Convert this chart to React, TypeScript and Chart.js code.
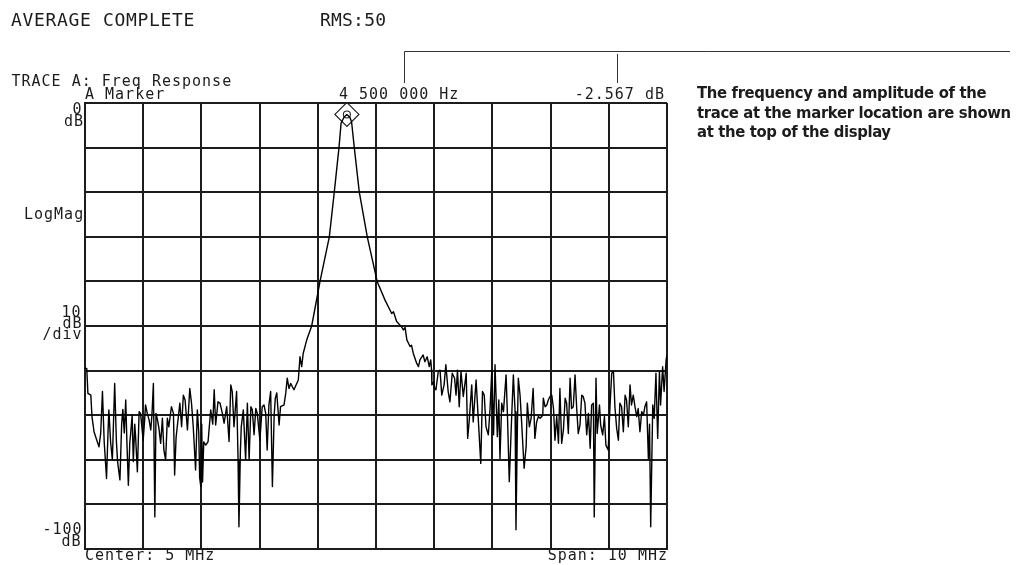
import React, { useEffect, useRef } from "react";
import { Chart, registerables } from "chart.js";

Chart.register(...registerables);

// ---------- DATA (frequency in MHz, level in dB) ----------
const leftNoise: [number, number][] = [
  [0.0, -59.5], [0.03, -59.5], [0.05, -65.1], [0.1, -65.5], [0.12, -70.3], [0.155, -73.7], [0.2, -75.5],
  [0.24, -77.1], [0.27, -74.0], [0.3, -64.7], [0.33, -76.0], [0.37, -84.2], [0.395, -74.0], [0.41, -68.8],
  [0.44, -76.0], [0.47, -80.0], [0.51, -62.9], [0.54, -76.0], [0.56, -80.4], [0.6, -84.5], [0.63, -72.0],
  [0.65, -68.7], [0.675, -74.0], [0.7, -66.6], [0.72, -76.0], [0.745, -85.7], [0.77, -76.0], [0.78, -74.8],
  [0.81, -70.0], [0.83, -80.4], [0.855, -72.0], [0.87, -75.0], [0.9, -82.7], [0.93, -69.2], [0.955, -69.6],
  [0.98, -73.0], [1.0, -75.6], [1.025, -71.0], [1.04, -67.7], [1.07, -69.6], [1.1, -71.0], [1.13, -73.3],
  [1.15, -70.0], [1.175, -62.9], [1.2, -92.8], [1.22, -69.6], [1.245, -71.0], [1.27, -72.9], [1.3, -76.3],
  [1.33, -70.7], [1.355, -77.8], [1.385, -80.0], [1.415, -70.7], [1.44, -72.6], [1.485, -68.1], [1.52, -69.6],
  [1.54, -83.4], [1.565, -75.0], [1.585, -72.6], [1.63, -67.3], [1.66, -72.6], [1.69, -65.5], [1.72, -66.6],
  [1.76, -73.3], [1.8, -64.0], [1.83, -67.3], [1.86, -72.6], [1.9, -82.3], [1.93, -68.8], [1.955, -74.0],
  [1.97, -84.0], [1.99, -86.0], [2.005, -72.0], [2.02, -85.0], [2.04, -76.0], [2.075, -76.7], [2.115, -75.9],
  [2.16, -68.8], [2.195, -72.0], [2.22, -64.3], [2.245, -72.2], [2.285, -67.0], [2.32, -67.3], [2.36, -69.6],
  [2.39, -71.8], [2.435, -68.1], [2.475, -75.9], [2.505, -63.2], [2.53, -64.7], [2.56, -72.6], [2.605, -64.7],
  [2.63, -80.0], [2.645, -95.0], [2.67, -78.0], [2.685, -72.6], [2.72, -68.8], [2.76, -80.0], [2.79, -67.3],
  [2.82, -80.0], [2.85, -68.1], [2.875, -68.8], [2.905, -74.4], [2.935, -68.5], [2.96, -69.6], [3.005, -75.6],
  [3.045, -68.1], [3.075, -67.7], [3.105, -69.6], [3.13, -77.8], [3.16, -67.7], [3.19, -64.7], [3.22, -86.0],
  [3.25, -70.0], [3.27, -66.2], [3.295, -65.0], [3.335, -72.2], [3.36, -68.1], [3.42, -67.7], [3.45, -65.0],
  [3.475, -61.7], [3.505, -64.0], [3.535, -62.9], [3.59, -64.3],
];

const peakTrace: [number, number][] = [
  [3.665, -62.1], [3.694, -56.9], [3.723, -59.1], [3.75, -56.1], [3.81, -53.1], [3.895, -50.0], [4.038, -40.0],
  [4.198, -30.0], [4.283, -20.0], [4.364, -10.0], [4.4, -4.5], [4.45, -3.2], [4.5, -2.567], [4.55, -3.2],
  [4.58, -4.2], [4.627, -10.0], [4.713, -20.0], [4.85, -30.0], [5.02, -40.0], [5.155, -44.2], [5.27, -47.2],
  [5.3, -46.8], [5.355, -49.0], [5.44, -50.2], [5.47, -50.9], [5.5, -50.3], [5.53, -53.1], [5.585, -54.6],
  [5.61, -54.3], [5.64, -56.1], [5.7, -58.4], [5.73, -59.1], [5.755, -57.6], [5.81, -56.5], [5.84, -58.0],
  [5.88, -56.9], [5.915, -59.1], [5.94, -57.6], [5.955, -59.9],
];

const rightNoise: [number, number][] = [
  [5.96, -63.2], [5.99, -62.5], [6.01, -64.0], [6.03, -64.3], [6.07, -60.2], [6.1, -59.9], [6.13, -65.5],
  [6.17, -63.2], [6.2, -58.7], [6.24, -64.7], [6.27, -67.0], [6.31, -60.6], [6.35, -61.7], [6.375, -65.5],
  [6.4, -59.9], [6.43, -68.1], [6.46, -60.2], [6.5, -65.8], [6.55, -60.6], [6.575, -75.2], [6.6, -71.5],
  [6.645, -63.2], [6.67, -71.5], [6.72, -62.1], [6.76, -71.5], [6.8, -80.8], [6.83, -64.7], [6.86, -65.5],
  [6.89, -72.6], [6.93, -74.4], [6.96, -68.5], [6.99, -59.9], [7.02, -74.4], [7.045, -58.7], [7.085, -74.8],
  [7.11, -66.6], [7.13, -79.7], [7.16, -67.3], [7.19, -69.2], [7.235, -61.0], [7.26, -70.7], [7.29, -84.9],
  [7.33, -70.7], [7.36, -61.0], [7.39, -69.2], [7.405, -95.7], [7.43, -72.0], [7.445, -61.7], [7.475, -65.5],
  [7.5, -71.1], [7.545, -81.9], [7.58, -77.0], [7.6, -67.3], [7.635, -72.6], [7.665, -70.7], [7.7, -64.0],
  [7.73, -75.2], [7.76, -71.5], [7.79, -70.3], [7.82, -70.7], [7.865, -70.0], [7.875, -66.2], [7.905, -68.1],
  [7.935, -67.7], [7.96, -66.6], [7.99, -65.8], [8.02, -65.5], [8.05, -68.5], [8.075, -75.6], [8.105, -70.3],
  [8.135, -76.3], [8.16, -64.0], [8.19, -76.3], [8.22, -73.3], [8.25, -66.2], [8.275, -67.3], [8.305, -74.1],
  [8.335, -61.7], [8.36, -68.5], [8.39, -68.1], [8.42, -61.0], [8.45, -68.8], [8.475, -74.1], [8.505, -72.2],
  [8.535, -65.5], [8.56, -65.8], [8.59, -67.3], [8.62, -74.4], [8.65, -69.6], [8.68, -77.4], [8.705, -67.7],
  [8.735, -67.3], [8.75, -92.8], [8.78, -61.7], [8.8, -74.1], [8.84, -67.7], [8.86, -72.2], [8.895, -74.4],
  [8.925, -70.3], [8.95, -76.7], [8.99, -77.8], [9.02, -68.1], [9.05, -60.6], [9.08, -60.2], [9.105, -68.1],
  [9.135, -72.9], [9.165, -75.6], [9.19, -67.3], [9.22, -68.1], [9.25, -73.7], [9.28, -65.5], [9.305, -66.6],
  [9.335, -72.6], [9.365, -63.2], [9.39, -67.7], [9.42, -65.5], [9.45, -68.1], [9.48, -70.3], [9.505, -68.5],
  [9.535, -73.7], [9.565, -69.2], [9.595, -70.0], [9.62, -68.1], [9.65, -67.0], [9.68, -79.7], [9.7, -72.0],
  [9.72, -95.0], [9.755, -67.7], [9.78, -70.7], [9.81, -60.6], [9.84, -75.2], [9.87, -60.2], [9.89, -67.7],
  [9.925, -59.1], [9.95, -64.7], [9.985, -57.6], [10.0, -56.5],
];

const markerFreqMHz = 4.5;
const markerLevelDb = -2.567;
const xRangeMHz = [0, 10];
const yRangeDb = [-100, 0];
const xDivMHz = 1;
const yDivDb = 10;

const headerTexts = ["AVERAGE COMPLETE", "RMS:50"];
const traceTexts = ["TRACE A: Freq Response", "A Marker", "4 500 000 Hz", "-2.567 dB"];
const axisTexts = ["0", "dB", "LogMag", "10", "dB", "/div", "-100", "dB"];
const footerTexts = ["Center: 5 MHz", "Span: 10 MHz"];
const noteLines = [
  "The frequency and amplitude of the",
  "trace at the marker location are shown",
  "at the top of the display",
];

// ---------- LAYOUT ----------
const W = 1024;
const H = 565;
const PLOT = { left: 85, top: 103, right: 667, bottom: 549 };
const HP_FONT = '"DejaVu Sans Mono", monospace';
const NOTE_FONT = '"Liberation Sans Narrow", "DejaVu Sans", sans-serif';
const INK = "#1c1c1c";

type LabelProps = {
  text: string;
  x: number;
  base: number;
  size?: number;
  ls?: number;
  align?: "left" | "right";
  font?: string;
  weight?: string | number;
  stretch?: string;
};

function Label({ text, x, base, size = 15, ls = 1, align = "left", font = HP_FONT, weight = "normal", stretch = "normal" }: LabelProps) {
  const style: React.CSSProperties = {
    position: "absolute",
    top: base - 0.846 * size,
    fontFamily: font,
    fontSize: size,
    lineHeight: `${size}px`,
    letterSpacing: ls,
    whiteSpace: "pre",
    color: INK,
    fontWeight: weight as any,
    fontStretch: stretch,
    margin: 0,
  };
  if (align === "right") style.right = W - x - ls;
  else style.left = x;
  return <div style={style}>{text}</div>;
}

const bracketPlugin = {
  id: "bracket",
  afterDraw(chart: any) {
    const ctx = chart.ctx as CanvasRenderingContext2D;
    ctx.save();
    ctx.strokeStyle = "#333";
    ctx.lineWidth = 1;
    ctx.beginPath();
    ctx.moveTo(404.5, 83);
    ctx.lineTo(404.5, 51.5);
    ctx.lineTo(1010, 51.5);
    ctx.moveTo(617.5, 54);
    ctx.lineTo(617.5, 83);
    ctx.stroke();
    ctx.restore();
  },
};

export default function App() {
  const ref = useRef<HTMLCanvasElement | null>(null);

  useEffect(() => {
    if (!ref.current) return;
    const trace = [...leftNoise, ...peakTrace, ...rightNoise].map(([x, y]) => ({ x, y }));
    const chart = new Chart(ref.current, {
      type: "line",
      data: {
        datasets: [
          {
            data: trace,
            borderColor: "#000",
            borderWidth: 1.4,
            pointRadius: 0,
            tension: 0,
            fill: false,
            borderJoinStyle: "round",
          },
          {
            data: [{ x: markerFreqMHz, y: markerLevelDb }],
            showLine: false,
            pointStyle: "rectRot",
            pointRadius: 12,
            pointBorderColor: "#222",
            pointBackgroundColor: "rgba(255,255,255,0)",
            pointBorderWidth: 1.2,
          },
          {
            data: [{ x: markerFreqMHz, y: markerLevelDb }],
            showLine: false,
            pointStyle: "circle",
            pointRadius: 3.5,
            pointBorderColor: "#222",
            pointBackgroundColor: "rgba(255,255,255,0)",
            pointBorderWidth: 1.1,
          },
        ],
      },
      options: {
        responsive: false,
        animation: false,
        events: [],
        layout: {
          padding: { left: PLOT.left, top: PLOT.top, right: W - PLOT.right, bottom: H - PLOT.bottom },
        },
        plugins: { legend: { display: false }, tooltip: { enabled: false } },
        scales: {
          x: {
            type: "linear",
            min: xRangeMHz[0],
            max: xRangeMHz[1],
            ticks: { display: false, stepSize: xDivMHz },
            grid: { color: INK, lineWidth: 2, drawTicks: false },
            border: { display: true, color: INK, width: 2 },
          },
          y: {
            type: "linear",
            min: yRangeDb[0],
            max: yRangeDb[1],
            ticks: { display: false, stepSize: yDivDb },
            grid: { color: INK, lineWidth: 2, drawTicks: false },
            border: { display: true, color: INK, width: 2 },
          },
        },
      },
      plugins: [bracketPlugin],
    });
    return () => chart.destroy();
  }, []);

  return (
    <div style={{ position: "absolute", left: 0, top: 0, width: W, height: H, background: "#fff", overflow: "hidden" }}>
      <canvas ref={ref} width={W} height={H} style={{ position: "absolute", left: 0, top: 0, width: W, height: H }} />
      <Label text={headerTexts[0]} x={11} base={26} size={18} ls={0.66} />
      <Label text={headerTexts[1]} x={320} base={26} size={18} ls={0.2} />
      <Label text={traceTexts[0]} x={11.5} base={87} />
      <Label text={traceTexts[1]} x={85} base={100} />
      <Label text={traceTexts[2]} x={339} base={99.5} />
      <Label text={traceTexts[3]} x={664} base={99.5} align="right" />
      <Label text={axisTexts[0]} x={81.5} base={115} align="right" />
      <Label text={axisTexts[1]} x={83} base={127} align="right" />
      <Label text={axisTexts[2]} x={24} base={220} />
      <Label text={axisTexts[3]} x={80.5} base={317.5} align="right" />
      <Label text={axisTexts[4]} x={81.5} base={328.5} align="right" />
      <Label text={axisTexts[5]} x={81.5} base={339.5} align="right" />
      <Label text={axisTexts[6]} x={81.5} base={535} align="right" />
      <Label text={axisTexts[7]} x={80.5} base={546.5} align="right" />
      <Label text={footerTexts[0]} x={85} base={561} />
      <Label text={footerTexts[1]} x={667} base={561} align="right" />
      {noteLines.map((t, i) => (
        <Label key={i} text={t} x={697} base={99 + i * 19.5} size={16.5} ls={-0.35} font={NOTE_FONT} weight={700} stretch="condensed" />
      ))}
    </div>
  );
}
